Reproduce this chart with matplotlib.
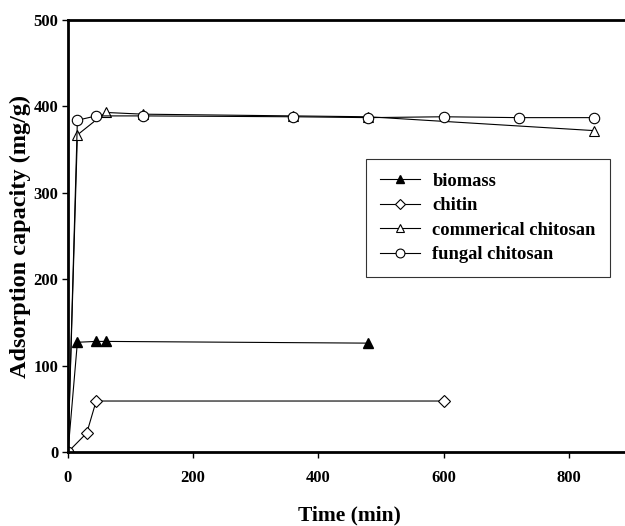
import matplotlib.pyplot as plt

plt.rcParams['font.family'] = ['Liberation Serif', 'DejaVu Serif']
plt.rcParams['font.weight'] = 'bold'

# data
t_biomass = [0, 15, 45, 60, 480]
y_biomass = [0, 127, 128, 128, 126]

t_chitin = [0, 30, 45, 600]
y_chitin = [0, 22, 59, 59]

t_comm = [0, 15, 60, 120, 360, 480, 840]
y_comm = [0, 367, 393, 391, 389, 388, 372]

t_fungal = [0, 15, 45, 120, 360, 480, 600, 720, 840]
y_fungal = [0, 384, 389, 389, 388, 387, 388, 387, 387]

fig = plt.figure(figsize=(6.25, 5.26), dpi=100)
ax = fig.add_axes([68/625, 74/526, 1 - 68/625 + 0.01, 432/526])

lw = 0.8
ax.plot(t_biomass, y_biomass, '-^', color='black', mfc='black', mec='black',
        ms=7, lw=lw, label='biomass')
ax.plot(t_chitin, y_chitin, '-D', color='black', mfc='white', mec='black',
        ms=6.5, lw=lw, mew=0.8, label='chitin')
ax.plot(t_comm, y_comm, '-^', color='black', mfc='white', mec='black',
        ms=7, lw=lw, mew=0.8, label='commerical chitosan')
ax.plot(t_fungal, y_fungal, '-o', color='black', mfc='white', mec='black',
        ms=7.5, lw=lw, mew=0.8, label='fungal chitosan')

ax.set_xlim(0, 900)
ax.set_ylim(0, 500)
ax.set_xticks([0, 200, 400, 600, 800])
ax.set_yticks([0, 100, 200, 300, 400, 500])

for s in ['left', 'bottom', 'top']:
    ax.spines[s].set_linewidth(2)
ax.spines['right'].set_visible(False)
ax.tick_params(direction='out', length=4, width=1, labelsize=12)
ax.tick_params(axis='x', pad=9)
ax.tick_params(axis='y', pad=3)
for lab in ax.get_xticklabels() + ax.get_yticklabels():
    lab.set_fontweight('bold')

ax.set_xlabel('Time (min)', fontsize=15.5, fontweight='bold', labelpad=14)
ax.set_ylabel('Adsorption capacity (mg/g)', fontsize=17.5, fontweight='bold', labelpad=2)

leg = ax.legend(loc='upper left', bbox_to_anchor=(366/625, 1 - 159/526),
                bbox_transform=fig.transFigure, borderaxespad=0,
                fancybox=False, frameon=True, edgecolor='black',
                fontsize=13.3, handlelength=2.2, borderpad=0.75,
                labelspacing=0.4, handletextpad=0.65, markerscale=0.85)
leg.get_frame().set_linewidth(0.8)
for txt in leg.get_texts():
    txt.set_fontweight('bold')

fig.savefig('out.png', dpi=100)
